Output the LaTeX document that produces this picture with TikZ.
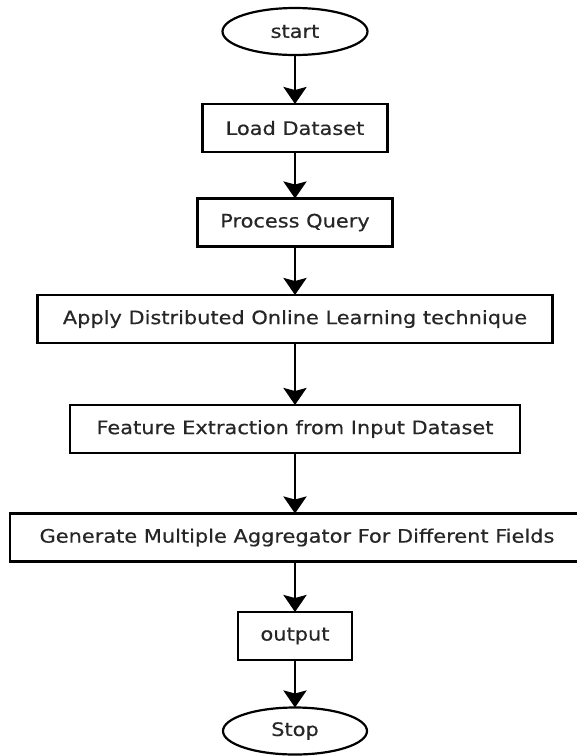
\documentclass[tikz,border=0pt]{standalone}
\usepackage{fontspec}
\setmainfont{DejaVu Sans}[FakeStretch=1.13, FakeBold=0.5]
\usetikzlibrary{positioning,shapes.geometric,arrows.meta}

\tikzset{
  procbox/.style={draw, line width=2.8pt, outer sep=0pt, minimum height=48pt,
                  text=black!85, font=\fontsize{18.5}{21}\selectfont},
  termnode/.style={draw, ellipse, line width=2.2pt, outer sep=0pt,
                   minimum height=47pt, text=black!85, font=\fontsize{18.5}{21}\selectfont},
  flow/.style={-{Stealth[length=17pt,width=23pt,inset=3pt]}, line width=2.8pt}
}

\begin{document}
\begin{tikzpicture}
   \path[use as bounding box, clip] (0,0) rectangle (577pt,-756pt);
   \node[termnode, minimum width=145pt] (start) at (295pt,-31.5pt) {start};
   \node[procbox, minimum width=185pt] (load) [below=49pt of start] {Load Dataset};
   \node[procbox, minimum width=195pt] (query) [below=46.5pt of load] {Process Query};
   \node[procbox, minimum width=515pt] (learn) [below=48.5pt of query] {Apply Distributed Online Learning technique};
   \node[procbox, minimum width=450pt] (feature) [below=62pt of learn] {Feature Extraction from Input Dataset};
   \node[procbox, minimum width=574pt] (aggr) [below=60.5pt of feature, xshift=2pt] {Generate Multiple Aggregator For Different Fields};
   \node[procbox, minimum width=114pt] (output) [below=50.5pt of aggr, xshift=-2pt] {output};
   \node[termnode, minimum width=144pt] (stop) [below=47.5pt of output] {Stop};

   \draw[flow] (start) -- (load);
   \draw[flow] (load) -- (query);
   \draw[flow] (query) -- (learn);
   \draw[flow] (learn) -- (feature);
   \draw[flow] (feature) -- (feature |- aggr.north);
   \draw[flow] (aggr.south -| output) -- (output);
   \draw[flow] (output) -- (stop);
\end{tikzpicture}
\end{document}
